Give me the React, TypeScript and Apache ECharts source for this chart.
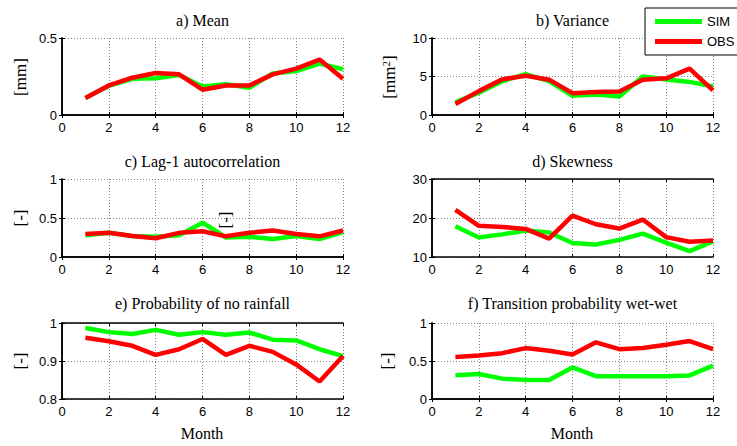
import React, { useEffect, useRef } from "react";
import * as echarts from "echarts";

const months = [1, 2, 3, 4, 5, 6, 7, 8, 9, 10, 11, 12];
const xTicks = [0, 2, 4, 6, 8, 10, 12];

const meanSim = [0.11, 0.19, 0.235, 0.238, 0.26, 0.185, 0.2, 0.177, 0.27, 0.285, 0.334, 0.297];
const meanObs = [0.111, 0.192, 0.242, 0.273, 0.264, 0.164, 0.192, 0.192, 0.264, 0.301, 0.36, 0.236];

const varSim = [1.66, 2.9, 4.4, 5.3, 4.4, 2.5, 2.66, 2.4, 5.0, 4.6, 4.3, 3.7];
const varObs = [1.44, 3.1, 4.63, 5.1, 4.59, 2.84, 3.0, 3.06, 4.59, 4.76, 6.03, 3.19];

const lagSim = [0.28, 0.31, 0.27, 0.26, 0.28, 0.44, 0.25, 0.26, 0.23, 0.27, 0.23, 0.32];
const lagObs = [0.295, 0.31, 0.27, 0.24, 0.31, 0.33, 0.265, 0.31, 0.34, 0.295, 0.265, 0.34];

const skewSim = [17.9, 15.0, 15.8, 16.8, 16.3, 13.6, 13.2, 14.4, 16.0, 13.7, 11.5, 14.0];
const skewObs = [22.1, 18.0, 17.7, 17.2, 14.7, 20.6, 18.4, 17.3, 19.6, 15.1, 13.9, 14.2];

const dryProbSim = [0.987, 0.976, 0.971, 0.982, 0.969, 0.976, 0.969, 0.975, 0.956, 0.954, 0.931, 0.913];
const dryProbObs = [0.961, 0.952, 0.94, 0.916, 0.931, 0.958, 0.916, 0.94, 0.924, 0.891, 0.846, 0.913];

const wetWetSim = [0.3125, 0.33, 0.268, 0.25, 0.25, 0.415, 0.3, 0.3, 0.3, 0.3, 0.31, 0.44];
const wetWetObs = [0.554, 0.571, 0.603, 0.67, 0.634, 0.585, 0.746, 0.656, 0.67, 0.714, 0.763, 0.656];

const titles = [
  "a) Mean",
  "b) Variance",
  "c) Lag-1 autocorrelation",
  "d) Skewness",
  "e) Probability of no rainfall",
  "f) Transition probability wet-wet",
];
const seriesNames = ["SIM", "OBS"];
const yRanges = [
  [0, 0.5, 0.5],
  [0, 10, 5],
  [0, 1, 0.5],
  [10, 30, 10],
  [0.8, 1, 0.1],
  [0, 1, 0.5],
];
const simData = [meanSim, varSim, lagSim, skewSim, dryProbSim, wetWetSim];
const obsData = [meanObs, varObs, lagObs, skewObs, dryProbObs, wetWetObs];

const SERIF = "'Liberation Serif', 'Times New Roman', serif";
const SANS = "'Liberation Sans', Arial, sans-serif";

const grids = [
  { left: 62, top: 38, width: 281, height: 77 },
  { left: 432, top: 38, width: 281, height: 77 },
  { left: 62, top: 179, width: 281, height: 78 },
  { left: 432, top: 179, width: 281, height: 78 },
  { left: 62, top: 323, width: 281, height: 76 },
  { left: 432, top: 323, width: 281, height: 76 },
];

export default function App() {
  const ref = useRef<HTMLDivElement>(null);

  useEffect(() => {
    if (!ref.current) return;
    const chart = echarts.init(ref.current, null, { renderer: "svg" });

    const xAxis: any[] = [];
    const yAxis: any[] = [];
    const series: any[] = [];
    const title: any[] = [];

    grids.forEach((g, i) => {
      const [ymin, ymax, yint] = yRanges[i];
      const splitLine = {
        show: true,
        lineStyle: { color: "#666", type: [1, 2], width: 0.8 },
      };
      xAxis.push({
        type: "value",
        gridIndex: i,
        position: "bottom",
        min: 0,
        max: 12,
        interval: 2,
        axisLine: { show: true, lineStyle: { color: "#000", width: 1.5 } },
        axisTick: { show: true, inside: true, length: 3, lineStyle: { color: "#000" } },
        axisLabel: {
          show: true,
          margin: 6,
          color: "#000",
          fontFamily: SANS,
          fontSize: 13,
          customValues: xTicks,
        },
        splitLine,
      });
      xAxis.push({
        type: "value",
        gridIndex: i,
        position: "top",
        min: 0,
        max: 12,
        interval: 2,
        axisLine: { show: true, lineStyle: { color: "#000", width: 1.5 } },
        axisTick: { show: true, inside: true, length: 3, lineStyle: { color: "#000" } },
        axisLabel: { show: false },
        splitLine: { show: false },
      });
      yAxis.push({
        type: "value",
        gridIndex: i,
        position: "left",
        min: ymin,
        max: ymax,
        interval: yint,
        axisLine: { show: true, lineStyle: { color: "#000", width: 1.5 } },
        axisTick: { show: true, inside: true, length: 3, lineStyle: { color: "#000" } },
        axisLabel: {
          show: true,
          margin: 5,
          color: "#000",
          fontFamily: SANS,
          fontSize: 13,
          formatter: (v: number) => String(Math.round(v * 100) / 100),
        },
        splitLine,
      });
      yAxis.push({
        type: "value",
        gridIndex: i,
        position: "right",
        min: ymin,
        max: ymax,
        interval: yint,
        axisLine: { show: true, lineStyle: { color: "#000", width: 1.5 } },
        axisTick: { show: true, inside: true, length: 3, lineStyle: { color: "#000" } },
        axisLabel: { show: false },
        splitLine: { show: false },
      });

      series.push({
        type: "line",
        name: seriesNames[0],
        xAxisIndex: 2 * i,
        yAxisIndex: 2 * i,
        data: months.map((m, k) => [m, simData[i][k]]),
        color: "#00ff00",
        showSymbol: false,
        symbol: "none",
        lineStyle: { width: 4.5, color: "#00ff00" },
        z: 3,
      });
      series.push({
        type: "line",
        name: seriesNames[1],
        xAxisIndex: 2 * i,
        yAxisIndex: 2 * i,
        data: months.map((m, k) => [m, obsData[i][k]]),
        color: "#ff0000",
        showSymbol: false,
        symbol: "none",
        lineStyle: { width: 4.5, color: "#ff0000" },
        z: 4,
      });

      const titleY = i < 2 ? 12 : i < 4 ? 153 : 295;
      title.push({
        text: titles[i],
        left: g.left + g.width / 2,
        top: titleY,
        textAlign: "center",
        padding: 0,
        textStyle: {
          fontFamily: SERIF,
          fontSize: 16,
          fontWeight: "normal",
          color: "#000",
        },
      });
    });

    const rotLabel = (text: string, x: number, y: number, rich?: any) => ({
      type: "text",
      x,
      y,
      rotation: Math.PI / 2,
      style: {
        text,
        fill: "#000",
        fontFamily: SERIF,
        fontSize: 17,
        align: "center",
        verticalAlign: "middle",
        rich,
      },
      z: 20,
    });

    const monthLabel = (x: number) => ({
      type: "text",
      x,
      y: 433,
      style: {
        text: "Month",
        fill: "#000",
        fontFamily: SERIF,
        fontSize: 16,
        align: "center",
        verticalAlign: "middle",
      },
    });

    const graphic: any[] = [
      rotLabel("[mm]", 20, 77),
      rotLabel("[mm{sup|2}]", 389, 77, {
        sup: { fontSize: 11, fontFamily: SERIF, verticalAlign: "top", padding: [0, 0, 7, 0] },
      }),
      rotLabel("[-]", 20, 218),
      rotLabel("[-]", 225, 220),
      rotLabel("[-]", 20, 361),
      rotLabel("[-]", 387, 361),
      monthLabel(202),
      monthLabel(572),
    ];

    chart.setOption({
      animation: false,
      backgroundColor: "#fff",
      title,
      grid: grids.map((g) => ({ ...g, containLabel: false })),
      xAxis,
      yAxis,
      series,
      graphic,
      legend: {
        data: seriesNames,
        orient: "vertical",
        left: 645,
        top: 8,
        icon: "rect",
        itemWidth: 47,
        itemHeight: 5,
        itemGap: 5,
        padding: [6, 40, 6, 10],
        borderColor: "#000",
        borderWidth: 1,
        backgroundColor: "#fff",
        z: 10,
        textStyle: {
          fontFamily: SANS,
          fontSize: 13,
          color: "#000",
          lineHeight: 15,
        },
      },
    });

    return () => chart.dispose();
  }, []);

  return (
    <div
      ref={ref}
      style={{ position: "fixed", left: 0, top: 0, width: 737, height: 446 }}
    />
  );
}
